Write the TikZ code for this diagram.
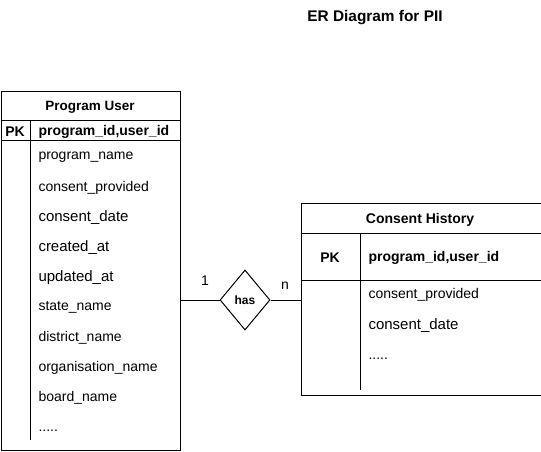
\documentclass[tikz,border=0pt]{standalone}
\usepackage{fontspec}
\setmainfont{Liberation Sans}
\usetikzlibrary{shapes.geometric}
\begin{document}
\begin{tikzpicture}[x=1pt,y=-1pt,line width=1pt,
  tbl/.style={draw,rectangle,anchor=north west,inner sep=0pt},
  fld/.style={anchor=west,inner sep=0pt,yshift=-1.5pt,font=\fontsize{14}{16}\selectfont},
  fldb/.style={anchor=west,inner sep=0pt,yshift=-1.5pt,font=\fontsize{15}{17}\selectfont},
  keyb/.style={inner sep=0pt,yshift=-1.5pt,font=\fontsize{14}{16}\selectfont\bfseries},
  ttl/.style={inner sep=0pt,yshift=-1.5pt,font=\fontsize{13.5}{15}\selectfont\bfseries},
  rel/.style={draw,diamond,minimum width=50pt,minimum height=60pt,inner sep=0pt,font=\fontsize{12}{14}\selectfont\bfseries},
  card/.style={inner sep=0pt,yshift=-1pt,font=\fontsize{14}{16}\selectfont}]
\useasboundingbox (0,0) rectangle (541,451);
\node[inner sep=0pt,yshift=-1pt,font=\fontsize{15.4}{18}\selectfont\bfseries] (title) at (375,17) {ER Diagram for PII};
% Program User table
\node[tbl,minimum width=179.5pt,minimum height=358.5pt] (pu) at (0.5,91) {};
\draw (0.5,120) -- (180,120);
\draw (0.5,140) -- (180,140);
\draw (30,120) -- (30,440);
\node[ttl] (puT) at (90,106) {Program User};
\node[keyb] (puPK) at (15,130) {PK};
\node[keyb,anchor=west] (puK) at (38,130) {program\_id,user\_id};
\node[fld] (f1) at (38,156) {program\_name};
\node[fld] (f2) at (38,186) {consent\_provided};
\node[fldb] (f3) at (38,216) {consent\_date};
\node[fldb] (f4) at (38,246) {created\_at};
\node[fldb] (f5) at (38,276) {updated\_at};
\node[fld] (f6) at (38,306) {state\_name};
\node[fld] (f7) at (38,336) {district\_name};
\node[fld] (f8) at (38,366) {organisation\_name};
\node[fld] (f9) at (38,396) {board\_name};
\node[fld] (f10) at (38,429) {.....};
% Consent History table
\node[tbl,minimum width=240pt,minimum height=192pt] (ch) at (300.5,203) {};
\draw (300.5,233) -- (540.5,233);
\draw (300.5,280) -- (540.5,280);
\draw (360,233) -- (360,390);
\node[ttl,font=\fontsize{14}{16}\selectfont\bfseries] (chT) at (420,218) {Consent History};
\node[keyb] (chPK) at (330,256) {PK};
\node[keyb,anchor=west] (chK) at (368,256) {program\_id,user\_id};
\node[fld] (g1) at (368,293) {consent\_provided};
\node[fldb] (g2) at (368,324) {consent\_date};
\node[fld] (g3) at (368,357) {.....};
% relationship
\node[rel] (has) at (245,300) {has};
\draw (pu.east |- has.west) -- (has.west);
\draw (has.east) -- (has.east -| ch.west);
\node[card] (c1) at (205,280) {1};
\node[card] (cn) at (285,285) {n};
\end{tikzpicture}
\end{document}
